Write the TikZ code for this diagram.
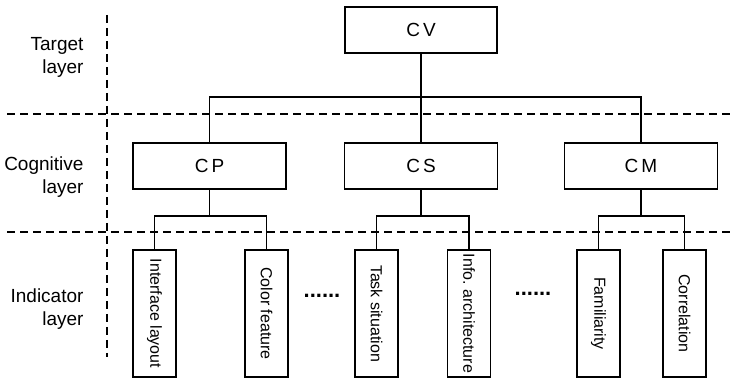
\documentclass[tikz,border=0pt]{standalone}
\usepackage{fontspec}
\setmainfont{Liberation Sans}
\begin{document}
\begin{tikzpicture}[x=1pt,y=-1pt,
	box/.style={draw,line width=1.7pt,minimum width=153pt,minimum height=46pt,inner sep=0pt,font=\fontsize{19}{23}\selectfont},
	ind/.style={draw,line width=1.7pt,rotate=-90,minimum width=127pt,minimum height=43pt,inner sep=0pt,font=\fontsize{16}{19}\selectfont},
	lbl/.style={align=right,anchor=east,font=\fontsize{19}{23}\selectfont},
	sep/.style={line width=1.4pt,dash pattern=on 8pt off 5pt},
	link/.style={line width=1.7pt}]
			\useasboundingbox (0,0) rectangle (737,379);
			\node[lbl] (tl) at (87,57) {Target\\layer};
			\node[lbl] (cl) at (87,177) {Cognitive\\layer};
			\node[lbl] (il) at (87,309) {Indicator\\layer};
			\draw[sep] (107,15) -- (107,357);
			\draw[sep] (7,114) -- (733,114);
			\draw[sep] (7,232) -- (733,232);
			\node[box,minimum width=152pt] (cv) at (421,30) {C\kern3pt V};
			\node[box] (cp) at (209.5,166) {C\kern3pt P};
			\node[box] (cs) at (421,166) {C\kern3pt S};
			\node[box] (cm) at (641,166) {C\kern3pt M};
			\node[ind] (i1) at (154.5,313.5) {Interface layout};
			\node[ind] (i2) at (266.5,313.5) {Color feature};
			\node[ind] (i3) at (376.5,313.5) {Task situation};
			\node[ind] (i4) at (469,313.5) {Info.\ architecture};
			\node[ind] (i5) at (598.5,313.5) {Familiarity};
			\node[ind] (i6) at (684.5,313.5) {Correlation};
			\node[font=\fontsize{22}{22}\bfseries] (d1) at (322,296) {......};
			\node[font=\fontsize{22}{22}\bfseries] (d2) at (533,294) {......};
			\coordinate (top) at (421,97);
			\draw[link] (cv.south) -- (cs.north);
			\draw[link] (cp.north) |- (top) -| (cm.north);
			\draw[link] (cp.south) -- ++(0,26) coordinate (pj);
			\draw[link] (cs.south) -- ++(0,26) coordinate (sj);
			\draw[link] (cm.south) -- ++(0,26) coordinate (mj);
			\draw[link] (i1.west) |- (pj) -| (i2.west);
			\draw[link] (i3.west) |- (sj) -| (i4.west);
			\draw[link] (i5.west) |- (mj) -| (i6.west);
\end{tikzpicture}
\end{document}
